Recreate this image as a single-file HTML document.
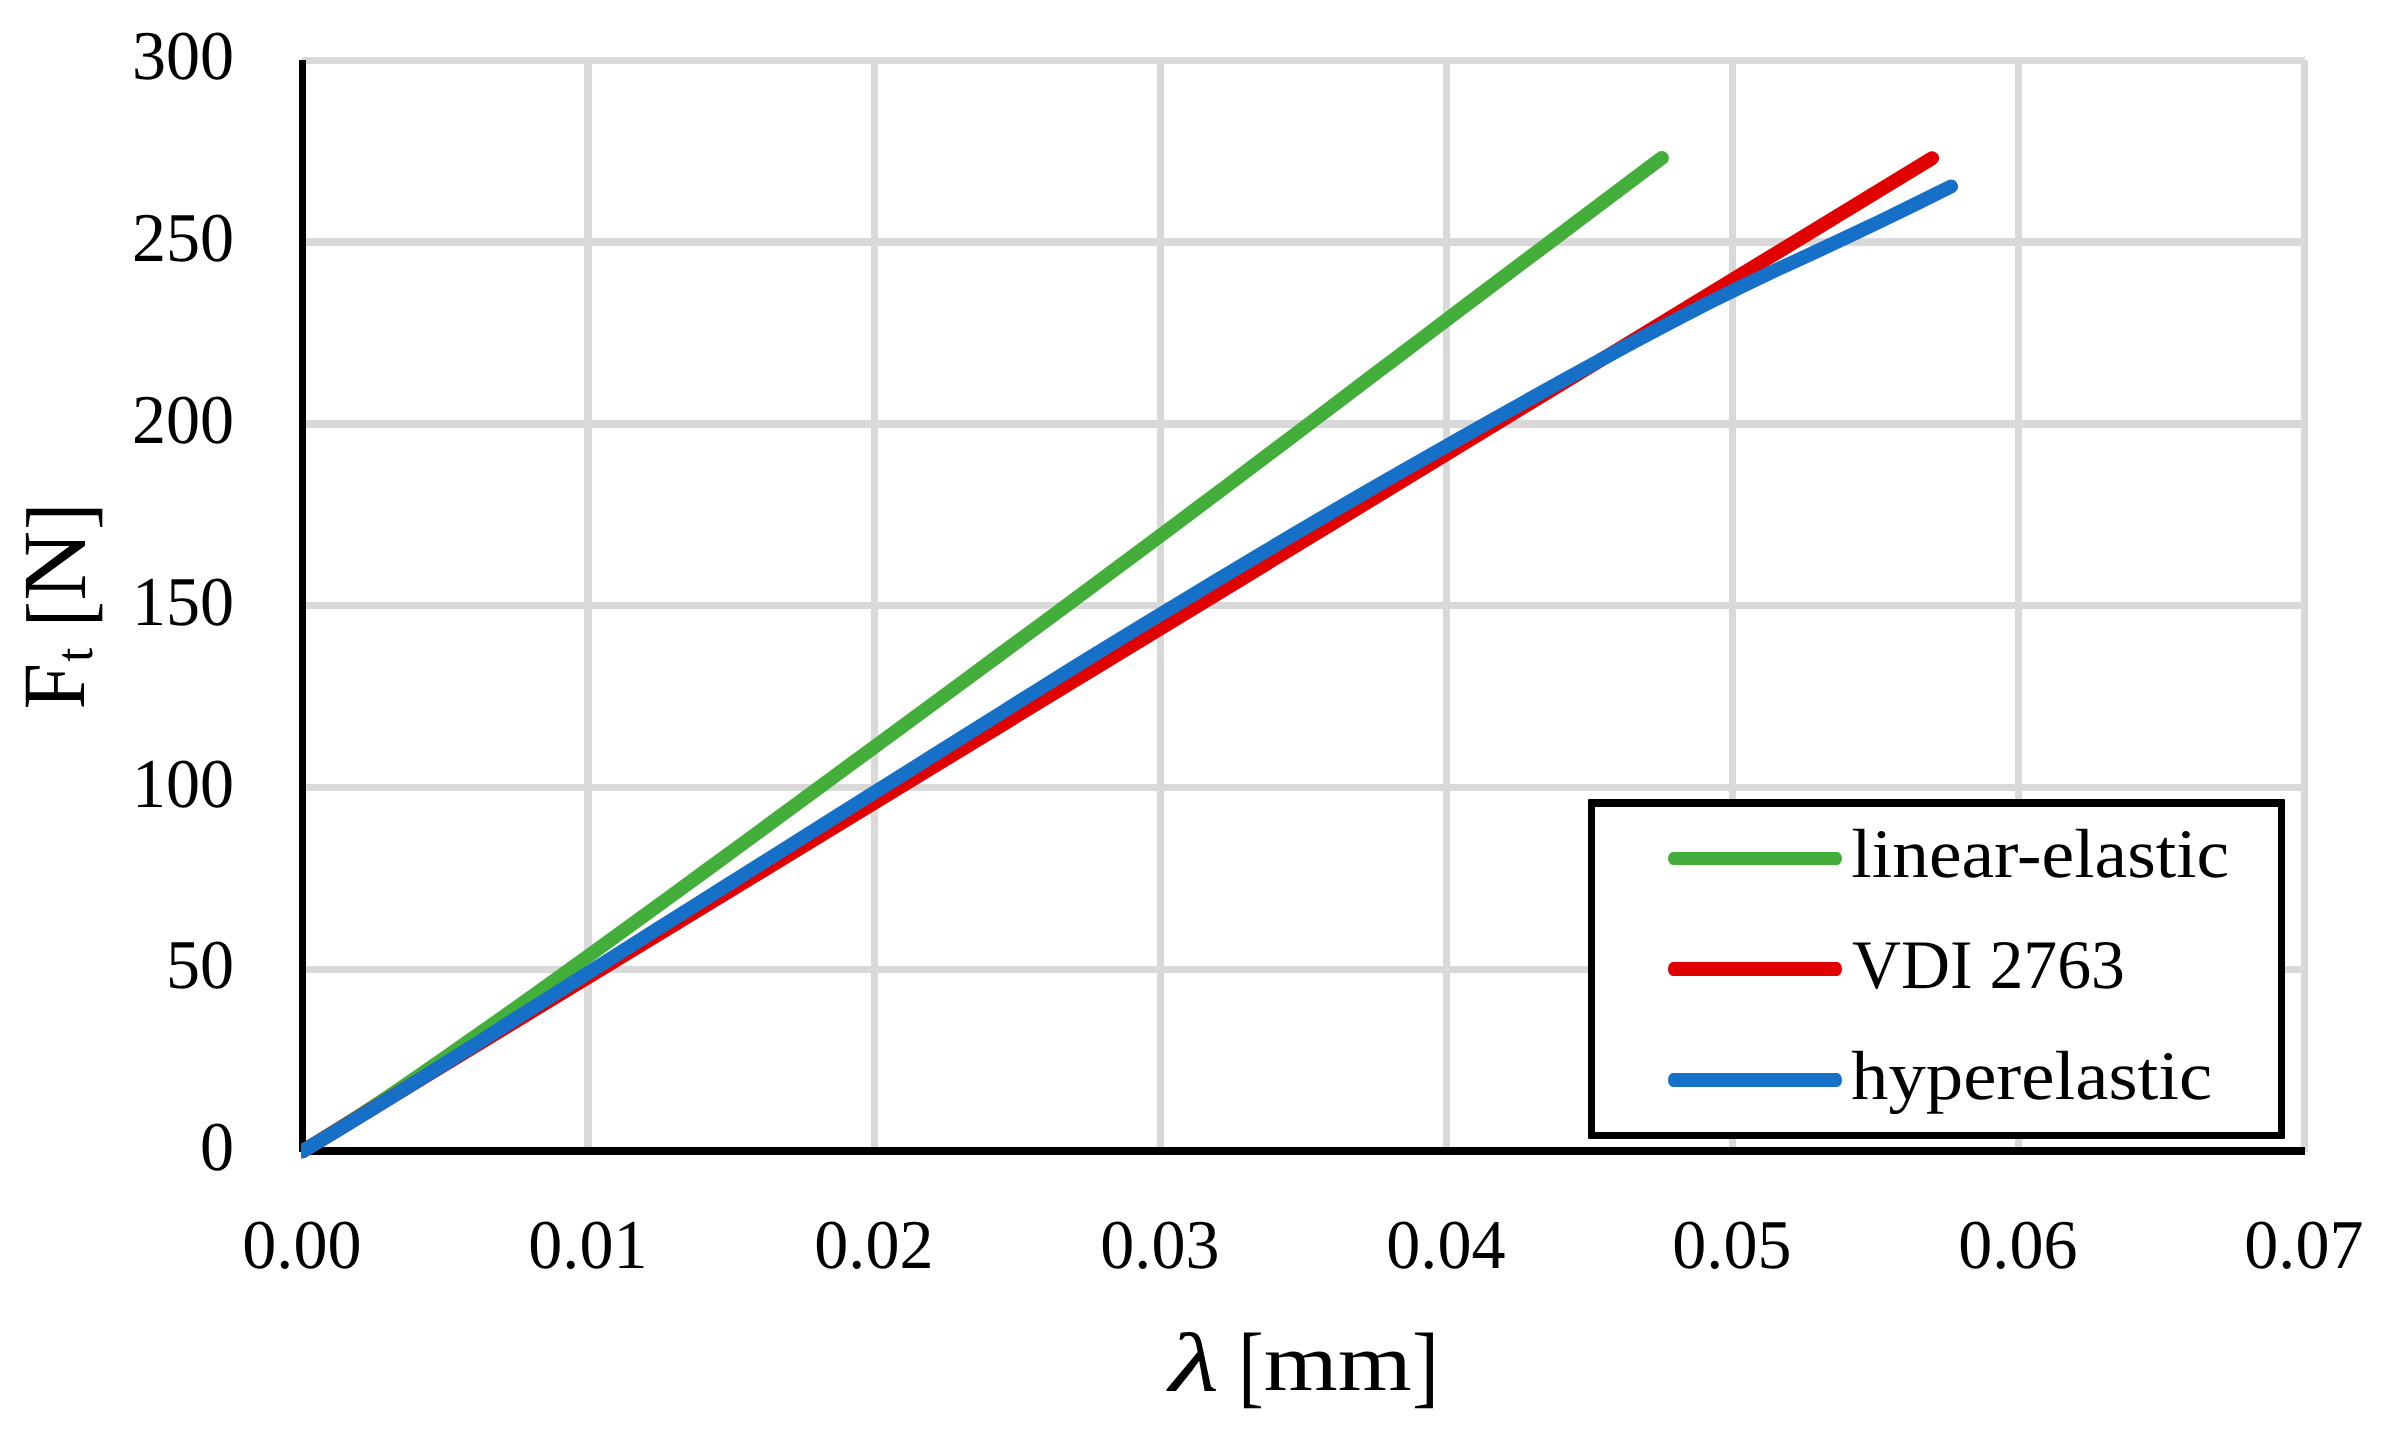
<!DOCTYPE html>
<html lang="en"><head><meta charset="utf-8"><title>Force over displacement</title>
<style>html,body{margin:0;padding:0;background:#fff;}body{width:2390px;height:1433px;overflow:hidden;}svg{display:block;}text{font-family:"Liberation Serif",serif;fill:#000;text-rendering:geometricPrecision;}</style>
</head><body>
<svg width="2390" height="1433" viewBox="0 0 2390 1433">
<rect width="2390" height="1433" fill="#fff"/>
<defs><clipPath id="plot"><rect x="301" y="40" width="2020" height="1120"/></clipPath></defs>
<g fill="#d9d9d9" shape-rendering="crispEdges">
<rect x="302" y="57" width="2003" height="7"/>
<rect x="302" y="238" width="2003" height="8"/>
<rect x="302" y="420" width="2003" height="8"/>
<rect x="302" y="602" width="2003" height="7"/>
<rect x="302" y="784" width="2003" height="7"/>
<rect x="302" y="966" width="2003" height="7"/>
<rect x="584" y="60" width="8" height="1092"/>
<rect x="871" y="60" width="7" height="1092"/>
<rect x="1157" y="60" width="7" height="1092"/>
<rect x="1443" y="60" width="7" height="1092"/>
<rect x="1729" y="60" width="7" height="1092"/>
<rect x="2015" y="60" width="7" height="1092"/>
<rect x="2301" y="60" width="7" height="1092"/>
</g>
<g fill="#000" shape-rendering="crispEdges"><rect x="299" y="60" width="7" height="1092"/><rect x="302" y="1147" width="2003" height="8"/></g>
<g clip-path="url(#plot)" fill="none" stroke-width="14" stroke-linecap="round" stroke-linejoin="round">
<path d="M302.5,1151.2 L331.4,1133.5 L360.3,1115.1 L389.3,1096.0 L418.2,1076.3 L447.1,1056.3 L476.0,1036.1 L505.0,1015.7 L533.9,995.2 L562.8,974.4 L591.7,953.6 L620.6,932.7 L649.6,911.7 L678.5,890.7 L707.4,869.5 L736.3,848.4 L765.3,827.1 L794.2,805.9 L823.1,784.6 L852.0,763.4 L881.0,742.1 L909.9,720.8 L938.8,699.6 L967.7,678.3 L996.6,657.0 L1025.6,635.7 L1054.5,614.3 L1083.4,592.9 L1112.3,571.4 L1141.3,549.9 L1170.2,528.3 L1199.1,506.7 L1228.0,485.0 L1256.9,463.2 L1285.9,441.3 L1314.8,419.5 L1343.7,397.6 L1372.6,375.7 L1401.6,353.8 L1430.5,332.0 L1459.4,310.2 L1488.3,288.4 L1517.2,266.7 L1546.2,244.9 L1575.1,223.2 L1604.0,201.4 L1632.9,179.7 L1661.9,157.9" stroke="#44ae3a"/>
<path d="M302.5,1151.2 L1932.1,158.2" stroke="#e00000"/>
<path d="M302.5,1151.2 L337.6,1130.3 L372.6,1108.9 L407.7,1087.1 L442.8,1065.0 L477.9,1042.8 L512.9,1020.5 L548.0,998.3 L583.1,976.1 L618.2,953.9 L653.2,931.7 L688.3,909.6 L723.4,887.5 L758.5,865.4 L793.5,843.3 L828.6,821.3 L863.7,799.2 L898.8,777.3 L933.8,755.2 L968.9,733.1 L1004.0,711.1 L1039.1,689.1 L1074.1,667.3 L1109.2,645.6 L1144.3,624.1 L1179.4,602.9 L1214.4,581.8 L1249.5,560.7 L1284.6,539.8 L1319.7,519.1 L1354.7,498.6 L1389.8,478.3 L1424.9,458.2 L1460.0,438.3 L1495.0,418.6 L1530.1,398.9 L1565.2,379.4 L1600.3,360.1 L1635.3,341.1 L1670.4,322.6 L1705.5,304.4 L1740.6,286.9 L1775.6,270.3 L1810.7,254.1 L1845.8,237.7 L1880.9,221.0 L1915.9,203.9 L1951.0,186.5" stroke="#1670c8"/>
</g>
<rect x="1588" y="799" width="697" height="340" rx="1.3" ry="1.3" fill="#000"/><rect x="1595" y="807" width="683" height="325" fill="#fff" shape-rendering="crispEdges"/>
<rect x="1668" y="852" width="174" height="13" rx="5" ry="6.5" fill="#44ae3a"/>
<rect x="1668" y="962" width="174" height="14" rx="5" ry="7.0" fill="#e00000"/>
<rect x="1668" y="1073" width="174" height="14" rx="5" ry="7.0" fill="#1670c8"/>
<g font-size="69.9" text-anchor="end">
<text transform="matrix(0.974 0 0 1.0 234.1 1170.2)">0</text>
<text transform="matrix(0.974 0 0 1.0 234.1 988.4)">50</text>
<text transform="matrix(0.974 0 0 1.0 234.1 806.6)">100</text>
<text transform="matrix(0.974 0 0 1.0 234.1 624.8)">150</text>
<text transform="matrix(0.974 0 0 1.0 234.1 443.0)">200</text>
<text transform="matrix(0.974 0 0 1.0 234.1 261.2)">250</text>
<text transform="matrix(0.974 0 0 1.0 234.1 79.3)">300</text>
</g>
<g font-size="69.9" text-anchor="middle">
<text transform="matrix(0.974 0 0 1.0 301.9 1268.2)">0.00</text>
<text transform="matrix(0.974 0 0 1.0 587.9 1268.2)">0.01</text>
<text transform="matrix(0.974 0 0 1.0 873.9 1268.2)">0.02</text>
<text transform="matrix(0.974 0 0 1.0 1159.9 1268.2)">0.03</text>
<text transform="matrix(0.974 0 0 1.0 1445.9 1268.2)">0.04</text>
<text transform="matrix(0.974 0 0 1.0 1731.9 1268.2)">0.05</text>
<text transform="matrix(0.974 0 0 1.0 2017.9 1268.2)">0.06</text>
<text transform="matrix(0.974 0 0 1.0 2303.9 1268.2)">0.07</text>
</g>
<text transform="matrix(1.0647 0 0 1.0100 1851.34 877.30)" font-size="69">linear-elastic</text>
<text transform="matrix(0.9821 0 0 1.0100 1852.06 988.40)" font-size="69">VDI 2763</text>
<text transform="matrix(1.0837 0 0 1.0100 1851.02 1098.90)" font-size="69">hyperelastic</text>
<text><tspan x="1168.99" y="1391.00" font-size="83.90" textLength="50.01" lengthAdjust="spacingAndGlyphs" font-style="italic">λ</tspan> <tspan x="1238.28" y="1395.75" font-size="91.55" textLength="25.48" lengthAdjust="spacingAndGlyphs">[</tspan><tspan x="1263.74" y="1389.60" font-size="81.81" textLength="147.88" lengthAdjust="spacingAndGlyphs">mm</tspan><tspan x="1412.02" y="1395.75" font-size="91.55" textLength="27.00" lengthAdjust="spacingAndGlyphs">]</tspan></text>
<text transform="rotate(-90)"><tspan x="-709.46" y="84.10" font-size="88.93" textLength="46.43" lengthAdjust="spacingAndGlyphs">F</tspan><tspan x="-661.69" y="91.69" font-size="52.96" textLength="14.11" lengthAdjust="spacingAndGlyphs">t</tspan> <tspan x="-626.66" y="89.78" font-size="92.04" textLength="25.63" lengthAdjust="spacingAndGlyphs">[</tspan><tspan x="-600.65" y="85.00" font-size="90.31" textLength="70.05" lengthAdjust="spacingAndGlyphs">N</tspan><tspan x="-530.01" y="89.78" font-size="92.04" textLength="27.30" lengthAdjust="spacingAndGlyphs">]</tspan></text>
</svg></body></html>
